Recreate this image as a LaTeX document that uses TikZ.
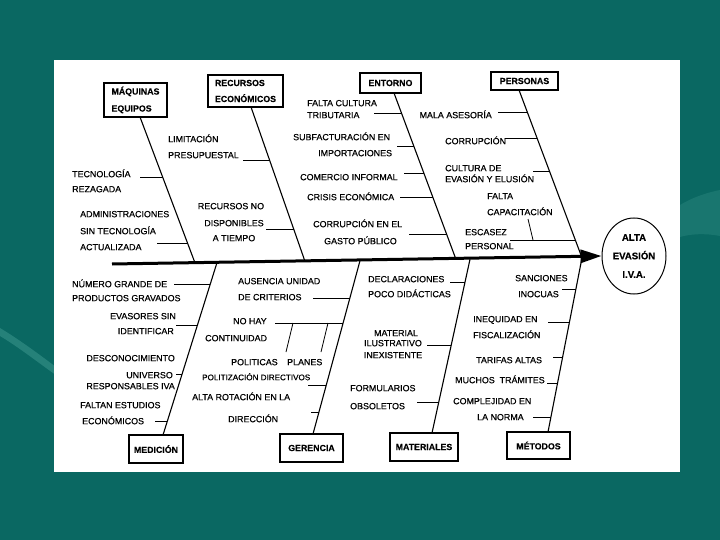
\documentclass[tikz,border=0pt]{standalone}
\usepackage{fontspec}
\setmainfont{Liberation Sans}
\newfontfamily\causefont{Liberation Sans}[FakeBold=0.5]
\newfontfamily\boxfont{Liberation Sans Bold}[FakeBold=0.3]
\usetikzlibrary{shapes.geometric,arrows.meta}
\definecolor{bgteal}{RGB}{10,104,98}
\definecolor{swoosh}{RGB}{70,160,150}
\newcommand\cW[4]{\node[cause,anchor=base west] (#1) at (#2,#3+3.2) {#4};}
\newcommand\cE[4]{\node[cause,anchor=base east] (#1) at (#2,#3+3.2) {#4};}
\newcommand\cC[4]{\node[cause,anchor=base] (#1) at (#2,#3+3.2) {#4};}
\newcommand\tickH[4]{\coordinate (#1a) at (#3,#2); \coordinate (#1b) at (#4,#2); \draw[tick] (#1a) -- (#1b);}
\begin{document}
\begin{tikzpicture}[x=1pt,y=-1pt,
  cause/.style={inner sep=0pt, font=\causefont\fontsize{8.9}{10}\selectfont},
  box/.style={draw, line width=1.2pt, inner sep=0pt, align=left, font=\boxfont\fontsize{8.8}{16}\selectfont},
  bone/.style={line width=1.1pt},
  tick/.style={line width=0.8pt}]
\fill[bgteal] (0,0) rectangle (720,540);
\useasboundingbox (0,0) rectangle (720,540);
\fill[swoosh,opacity=0.45] (0,328) .. controls (20,340) and (40,355) .. (60,370) -- (60,378) .. controls (40,364) and (20,348) .. (0,336) -- cycle;
\fill[swoosh,opacity=0.25] (680,205) .. controls (695,196) and (710,192) .. (720,190) -- (720,236) .. controls (705,233) and (690,234) .. (680,237) -- cycle;
\fill[white] (54,60) rectangle (680,472);

% category boxes
\node[box, minimum width=63pt, minimum height=34pt, font=\boxfont\fontsize{8.8}{17}\selectfont] (maq) at (135.5,100) {MÁQUINAS\\EQUIPOS};
\node[box, minimum width=75pt, minimum height=32pt] (rec) at (245.5,91) {RECURSOS\\ECONÓMICOS};
\node[box, minimum width=61pt, minimum height=20pt] (ent) at (390.5,83) {ENTORNO};
\node[box, minimum width=67pt, minimum height=18pt] (per) at (524.5,81) {PERSONAS};
\node[box, minimum width=54pt, minimum height=28pt] (med) at (156,449) {MEDICIÓN};
\node[box, minimum width=63pt, minimum height=28pt] (ger) at (311.5,448) {GERENCIA};
\node[box, minimum width=68pt, minimum height=28pt] (mat) at (424,447) {MATERIALES};
\node[box, minimum width=63pt, minimum height=27pt] (met) at (538.5,445.5) {MÉTODOS};

% effect
\node[draw, ellipse, line width=1pt, minimum width=64pt, minimum height=76pt, inner sep=0pt, align=center, font=\boxfont\fontsize{9.6}{18.5}\selectfont] (eff) at (634,256) {ALTA\\EVASIÓN\\I.V.A.};

% spine
\coordinate (sp0) at (112,264);
\draw[line width=3pt, -{Triangle[length=21pt,width=13pt]}] (sp0) -- (eff.west);

% bones
\coordinate (bq0) at (140,117);   \coordinate (bq1) at (195,262.9);
\coordinate (br0) at (251,107);   \coordinate (br1) at (305,261.4);
\coordinate (be0) at (394,93);    \coordinate (be1) at (456,259.4);
\coordinate (bp0) at (519,90);    \coordinate (bp1) at (582,257.8);
\coordinate (bm0) at (163,435);   \coordinate (bm1) at (217,262.6);
\coordinate (bg0) at (313,434);   \coordinate (bg1) at (360,260.7);
\coordinate (ba0) at (432,433);   \coordinate (ba1) at (470,259.3);
\coordinate (bt0) at (548,432);   \coordinate (bt1) at (582,257.8);
\draw[bone] (bq0) -- (bq1);
\draw[bone] (br0) -- (br1);
\draw[bone] (be0) -- (be1);
\draw[bone] (bp0) -- (bp1);
\draw[bone] (bm0) -- (bm1);
\draw[bone] (bg0) -- (bg1);
\draw[bone] (ba0) -- (ba1);
\draw[bone] (bt0) -- (bt1);

% ---- top causes ----
\cW{l1}{168}{139}{LIMITACIÓN}
\cW{l2}{168}{155}{PRESUPUESTAL}
\tickH{tpre}{160}{243}{269.5}
\cW{t1}{72}{174}{TECNOLOGÍA}
\cW{t2}{72}{189}{REZAGADA}
\tickH{ttec}{177}{140}{162.6}
\cW{a1}{80}{214}{ADMINISTRACIONES}
\cW{a2}{80}{231}{SIN TECNOLOGÍA}
\cW{a3}{80}{247}{ACTUALIZADA}
\tickH{tact}{243}{157}{187.5}
\cC{r1}{231}{206}{RECURSOS NO}
\cC{r2}{234}{223}{DISPONIBLES}
\cC{r3}{234}{238}{A TIEMPO}
\tickH{tdis}{229}{266}{293.7}
\cW{f1}{307}{103}{FALTA CULTURA}
\cW{f2}{307}{115}{TRIBUTARIA}
\tickH{tfal}{113}{374}{401.5}
\cW{s1}{293}{137}{SUBFACTURACIÓN EN}
\cW{s2}{318}{153}{IMPORTACIONES}
\tickH{tsub}{146}{397}{413.7}
\cW{c1}{300}{177}{COMERCIO INFORMAL}
\tickH{tcom}{173}{404}{423.8}
\cW{c2}{307}{197}{CRISIS ECONÓMICA}
\tickH{tcri}{197}{400}{432.8}
\cW{g1}{313}{224}{CORRUPCIÓN EN EL}
\cW{g2}{324}{241}{GASTO PÚBLICO}
\tickH{tcor}{234}{409}{446.5}
\cE{m1}{492}{115}{MALA ASESORÍA}
\tickH{tmal}{112}{498}{527.3}
\cW{p1}{445}{141}{CORRUPCIÓN}
\tickH{tcrp}{138}{505}{537}
\cW{p2}{445}{168}{CULTURA DE}
\cW{p3}{445}{179}{EVASIÓN Y ELUSIÓN}
\tickH{tcul}{171}{533}{549.4}
\cW{p4}{487}{196}{FALTA}
\cW{p5}{487}{212}{CAPACITACIÓN}
\cW{p6}{465}{232}{ESCASEZ}
\cW{p7}{465}{246}{PERSONAL}
\tickH{tesc}{240}{510}{575.3}
\coordinate (scap) at (528,219);
\coordinate (sesc) at (533,240);
\draw[tick] (scap) -- (sesc);

% ---- bottom causes ----
\cW{n1}{72}{284}{NÚMERO GRANDE DE}
\cW{n2}{72}{298}{PRODUCTOS GRAVADOS}
\tickH{bnum}{284}{174}{210.3}
\cE{e1}{176}{316}{EVASORES SIN}
\cE{e2}{174}{331}{IDENTIFICAR}
\tickH{beva}{325}{176}{197.5}
\cE{d1}{175}{358}{DESCONOCIMIENTO}
\cE{d2}{173}{375}{UNIVERSO}
\cE{d3}{175}{386}{RESPONSABLES IVA}
\tickH{buni}{374}{176}{182.1}
\cW{fe1}{80}{405}{FALTAN ESTUDIOS}
\cW{fe2}{82}{421}{ECONÓMICOS}
\tickH{bfal}{421}{155}{167.4}
\cW{au1}{238}{281}{AUSENCIA UNIDAD}
\cW{au2}{238}{297}{DE CRITERIOS}
\tickH{baus}{298}{313}{349.9}
\cW{nh1}{233}{321}{NO HAY}
\cW{nh2}{205}{338}{CONTINUIDAD}
\tickH{bnoh}{323}{275}{343.1}
\coordinate (spo0) at (293,323); \coordinate (spo1) at (286,352);
\coordinate (spl0) at (328,323); \coordinate (spl1) at (321,352);
\draw[tick] (spo0) -- (spo1);
\draw[tick] (spl0) -- (spl1);
\cW{po}{231}{362}{POLITICAS}
\cW{pl}{287}{362}{PLANES}
\node[cause,anchor=base west,font=\causefont\fontsize{8.1}{10}\selectfont] (pd) at (202,380.2) {POLITIZACIÓN DIRECTIVOS};
\tickH{bpol}{385}{308}{326.3}
\cW{ar1}{192}{397}{ALTA ROTACIÓN EN LA}
\cW{ar2}{228}{419}{DIRECCIÓN}
\tickH{balt}{412}{311}{319}
\cW{de1}{368}{279}{DECLARACIONES}
\cW{de2}{368}{294}{POCO DIDÁCTICAS}
\tickH{bdec}{282}{450}{465}
\cC{ma1}{396}{333}{MATERIAL}
\cC{ma2}{393}{343}{ILUSTRATIVO}
\cC{ma3}{393}{355}{INEXISTENTE}
\tickH{bmat}{345}{427}{451.2}
\cW{fo1}{350}{388}{FORMULARIOS}
\cW{fo2}{350}{406}{OBSOLETOS}
\tickH{bfor}{402}{417}{438.8}
\cW{sa1}{515}{278}{SANCIONES}
\cW{sa2}{518}{294}{INOCUAS}
\tickH{bsan}{289}{562}{575.9}
\cW{in1}{473}{319}{INEQUIDAD EN}
\cW{in2}{473}{335}{FISCALIZACIÓN}
\tickH{bine}{322}{548}{569.5}
\cW{ta}{476}{360}{TARIFAS ALTAS}
\tickH{btar}{357}{553}{562.6}
\cW{mu}{455}{380}{MUCHOS\ \ TRÁMITES}
\tickH{bmuc}{383}{547}{557.6}
\cW{co1}{453}{401}{COMPLEJIDAD EN}
\cW{co2}{477}{417}{LA NORMA}
\tickH{bcom}{417}{533}{550.9}
\end{tikzpicture}
\end{document}
